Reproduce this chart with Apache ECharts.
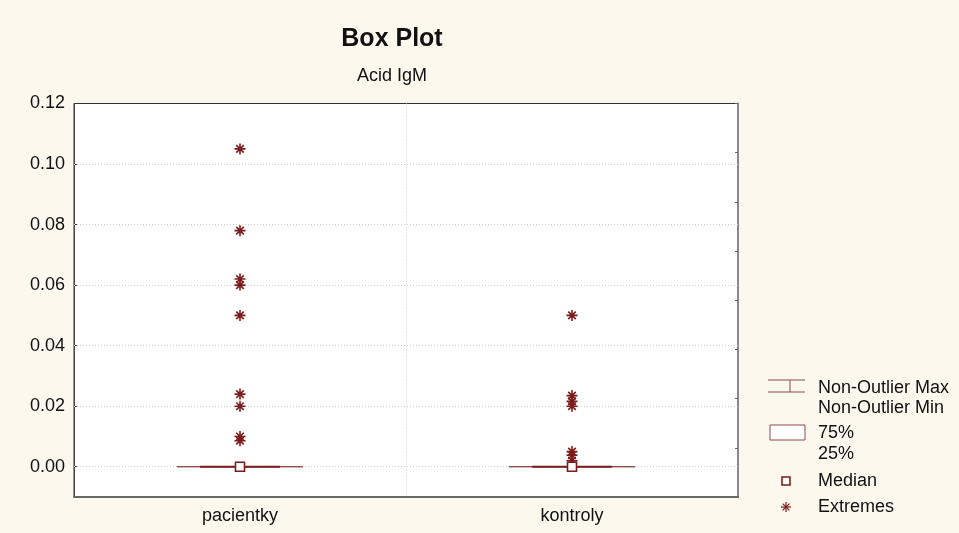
<!DOCTYPE html>
<html>
<head>
<meta charset="utf-8">
<script src="https://cdn.jsdelivr.net/npm/echarts@6/dist/echarts.min.js"></script>
<style>
  html, body { margin: 0; padding: 0; background: #fdf8ee; }
  #chart { width: 959px; height: 533px; }
</style>
</head>
<body>
<div id="chart"></div>
<script>
// Groups on the x axis
const categories = ['pacientky', 'kontroly'];

// Box statistics per group
const whiskerMin = [0, 0];
const quartile1 = [0, 0];
const medians = [0, 0];
const quartile3 = [0, 0];
const whiskerMax = [0, 0];

// Extreme values per group
const extremesPacientky = [0.105, 0.078, 0.062, 0.060, 0.050, 0.024, 0.020, 0.010, 0.0086];
const extremesKontroly = [0.050, 0.0235, 0.0216, 0.020, 0.005, 0.0038, 0.002];

// Left axis tick labels
const yTicks = [0.00, 0.02, 0.04, 0.06, 0.08, 0.10, 0.12];

const DARK_RED = '#7b1c1c';
const FONT = '"Liberation Sans", Arial, sans-serif';
const STAR = 'path://M5 0V10M0 5H10M1.6 1.6L8.4 8.4M8.4 1.6L1.6 8.4';

const boxData = categories.map((c, i) =>
  [i, whiskerMin[i], quartile1[i], medians[i], quartile3[i], whiskerMax[i]]);
const medianData = categories.map((c, i) => [i, medians[i]]);
const extremeData = []
  .concat(extremesPacientky.map(v => [0, v]))
  .concat(extremesKontroly.map(v => [1, v]));

const chart = echarts.init(document.getElementById('chart'), null, { renderer: 'canvas' });

function renderBox(params, api) {
  const x = api.value(0);
  const lo = api.coord([x, api.value(1)]);
  const q1 = api.coord([x, api.value(2)]);
  const q3 = api.coord([x, api.value(4)]);
  const hi = api.coord([x, api.value(5)]);
  const band = api.size([1, 0])[0];
  const capHalf = band * 0.19;
  const boxHalf = band * 0.12;
  const cx = lo[0];
  const thin = { stroke: '#8a4a4a', lineWidth: 1 };
  return {
    type: 'group',
    children: [
      { type: 'line', shape: { x1: cx, y1: lo[1], x2: cx, y2: hi[1] }, style: thin },
      { type: 'line', shape: { x1: cx - capHalf, y1: lo[1], x2: cx + capHalf, y2: lo[1] }, style: thin },
      { type: 'line', shape: { x1: cx - capHalf, y1: hi[1], x2: cx + capHalf, y2: hi[1] }, style: thin },
      {
        type: 'rect',
        shape: { x: cx - boxHalf, y: q3[1], width: boxHalf * 2, height: q1[1] - q3[1] },
        style: { fill: '#fff', stroke: DARK_RED, lineWidth: 2 }
      }
    ]
  };
}

const legendText = (x, y, t) => ({
  type: 'text', x: x, y: y,
  style: { text: t, fill: '#111', font: '18px ' + FONT, verticalAlign: 'middle', align: 'left' }
});
const legendLine = (x1, y1, x2, y2, color, w) => ({
  type: 'line', shape: { x1: x1, y1: y1, x2: x2, y2: y2 },
  style: { stroke: color, lineWidth: w }
});

const option = {
  backgroundColor: '#fdf8ee',
  animation: false,
  textStyle: { fontFamily: FONT },
  title: [
    {
      text: 'Box Plot', left: 387, top: 22, textAlign: 'center',
      textStyle: { fontSize: 25, fontWeight: 'bold', color: '#111', fontFamily: FONT }
    },
    {
      text: 'Acid IgM', left: 387, top: 62, textAlign: 'center',
      textStyle: { fontSize: 18, fontWeight: 'normal', color: '#111', fontFamily: FONT }
    }
  ],
  grid: {
    left: 74, right: 221, top: 103.5, bottom: 36,
    show: true, backgroundColor: '#ffffff', borderColor: '#333', borderWidth: 1
  },
  xAxis: {
    type: 'category',
    data: categories,
    boundaryGap: true,
    axisLine: { onZero: false, lineStyle: { color: '#666', width: 2 } },
    axisTick: { inside: true, length: 4, lineStyle: { color: '#333' } },
    axisLabel: { fontSize: 18, color: '#111', margin: 10, fontFamily: FONT },
    splitLine: { show: true, lineStyle: { color: '#cfcfcf', type: [1, 2] } }
  },
  yAxis: [
    {
      type: 'value',
      min: -0.01, max: 0.12, interval: 0.01,
      axisLine: { show: true, onZero: false, lineStyle: { color: '#444' } },
      axisTick: { show: true, inside: true, length: 4, customValues: yTicks, lineStyle: { color: '#333' } },
      axisLabel: {
        customValues: yTicks, fontSize: 18, color: '#111', margin: 9, fontFamily: FONT,
        formatter: v => v.toFixed(2)
      },
      splitLine: { show: false }
    },
    {
      type: 'value',
      position: 'right',
      min: 0, max: 8, interval: 1,
      axisLine: { show: true, onZero: false, lineStyle: { color: '#888', width: 2 } },
      axisTick: { show: true, inside: true, length: 3, lineStyle: { color: '#666' } },
      axisLabel: { show: false },
      splitLine: { show: false }
    }
  ],
  series: [
    {
      type: 'custom',
      name: 'box',
      renderItem: renderBox,
      data: boxData,
      encode: { x: 0, y: [1, 2, 3, 4, 5] },
      z: 2,
      markLine: {
        silent: true, symbol: 'none', label: { show: false },
        lineStyle: { color: '#cfcfcf', type: [1, 2], width: 1 },
        data: yTicks.filter(v => v < 0.12).map(v => ({ yAxis: v })),
        z: 1
      }
    },
    {
      type: 'scatter',
      name: 'Extremes',
      data: extremeData,
      symbol: STAR,
      symbolSize: 11,
      itemStyle: { color: 'none', borderColor: DARK_RED, borderWidth: 1.6, opacity: 1 },
      z: 4
    },
    {
      type: 'scatter',
      name: 'Median',
      data: medianData,
      symbol: 'rect',
      symbolSize: 9,
      itemStyle: { color: '#fff', borderColor: DARK_RED, borderWidth: 1.6, opacity: 1 },
      z: 5
    }
  ],
  graphic: [
    // legend: whisker
    legendLine(768, 380, 805, 380, '#8a4a4a', 1),
    legendLine(768, 392, 805, 392, '#8a4a4a', 1),
    legendLine(790, 380, 790, 392, '#8a4a4a', 1),
    legendText(818, 388, 'Non-Outlier Max'),
    legendText(818, 408, 'Non-Outlier Min'),
    // legend: box
    { type: 'rect', shape: { x: 770, y: 425, width: 35, height: 15 }, style: { fill: '#fff', stroke: '#8a4a4a', lineWidth: 1 } },
    legendText(818, 433, '75%'),
    legendText(818, 454, '25%'),
    // legend: median
    { type: 'rect', shape: { x: 782, y: 477, width: 8, height: 8 }, style: { fill: '#fff', stroke: DARK_RED, lineWidth: 1.6 } },
    legendText(818, 481, 'Median'),
    // legend: extremes
    legendLine(786, 502, 786, 512, DARK_RED, 1.2),
    legendLine(781, 507, 791, 507, DARK_RED, 1.2),
    legendLine(782.6, 503.6, 789.4, 510.4, DARK_RED, 1.2),
    legendLine(789.4, 503.6, 782.6, 510.4, DARK_RED, 1.2),
    legendText(818, 507, 'Extremes')
  ]
};

chart.setOption(option);
</script>
</body>
</html>
